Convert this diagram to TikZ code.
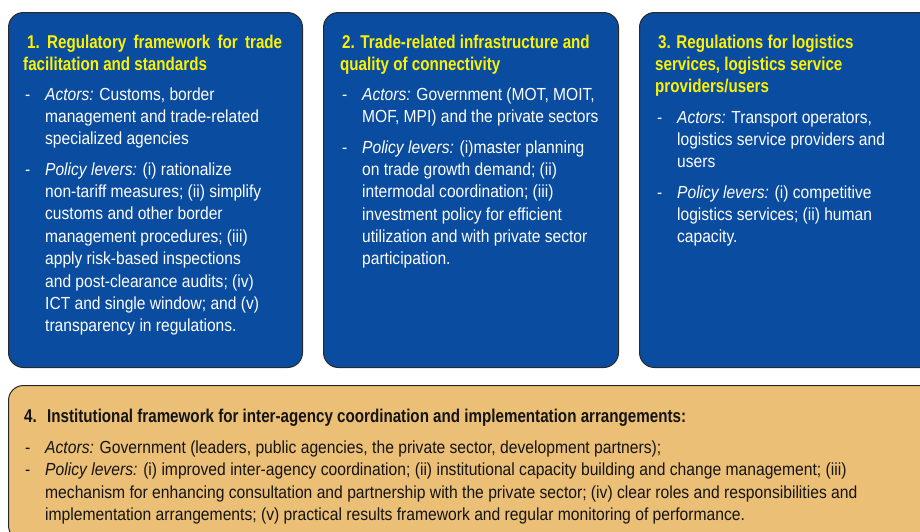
\documentclass[tikz,border=0pt]{standalone}
\usepackage{fontspec}
\setmainfont{Liberation Sans}[FakeStretch=0.89]
\newfontfamily\titlefont{Liberation Sans}[FakeStretch=0.82]
\newfontfamily\widefont{Liberation Sans}[FakeStretch=0.895]
\definecolor{boxblue}{RGB}{10,76,160}
\definecolor{boxorange}{RGB}{235,191,117}
\definecolor{titleyellow}{RGB}{255,242,0}
\definecolor{edgegray}{RGB}{40,40,40}
\definecolor{darktext}{RGB}{20,20,20}
\begin{document}
\begin{tikzpicture}[x=1pt,y=-1pt,
  panel/.style={draw=edgegray, line width=1pt, rounded corners=15pt, inner sep=0pt, anchor=north west},
  bluepanel/.style={panel, fill=boxblue},
  orangepanel/.style={panel, fill=boxorange},
  ttl/.style={anchor=base west, inner sep=0pt, font=\titlefont\bfseries\fontsize{18.5}{22}\selectfont, text=titleyellow},
  ttlblack/.style={ttl, text=darktext},
  body/.style={anchor=base west, inner sep=0pt, font=\fontsize{17.5}{22}\selectfont, text=white},
  bodyblack/.style={body, font=\widefont\fontsize{17.5}{22}\selectfont, text=darktext}
]
\useasboundingbox (0,0) rectangle (920,531);
\clip (0,0) rectangle (920,531);
% panels
\node[bluepanel, minimum width=294pt, minimum height=355pt] (p1) at (8,12) {};
\node[bluepanel, minimum width=295pt, minimum height=355pt] (p2) at (323,12) {};
\node[bluepanel, minimum width=310pt, minimum height=355pt] (p3) at (639,12) {};
\node[orangepanel, minimum width=940pt, minimum height=155pt] (p4) at (8,385) {};
% box 1
\node[ttl] (t1a) at (27,48) {\makebox[255pt][s]{1.\ Regulatory framework for trade}};
\node[ttl] (t1b) at (23,70) {facilitation and standards};
\node[body] (d1a) at (25,100) {-};
\node[body] (l1a) at (45,100) {\textit{Actors:} Customs, border};
\node[body] (l1b) at (45,122) {management and trade-related};
\node[body] (l1c) at (45,144) {specialized agencies};
\node[body] (d1b) at (25,175) {-};
\node[body] (l1d) at (45,175) {\textit{Policy levers:} (i) rationalize};
\node[body] (l1e) at (45,197) {non-tariff measures; (ii) simplify};
\node[body] (l1f) at (45,219) {customs and other border};
\node[body] (l1g) at (45,242) {management procedures; (iii)};
\node[body] (l1h) at (45,264) {apply risk-based inspections};
\node[body] (l1i) at (45,287) {and post-clearance audits; (iv)};
\node[body] (l1j) at (45,309) {ICT and single window; and (v)};
\node[body] (l1k) at (45,331) {transparency in regulations.};
% box 2
\node[ttl] (t2a) at (342,48) {2. Trade-related infrastructure and};
\node[ttl] (t2b) at (340,70) {quality of connectivity};
\node[body] (d2a) at (342,100) {-};
\node[body] (l2a) at (362,100) {\textit{Actors:} Government (MOT, MOIT,};
\node[body] (l2b) at (362,122) {MOF, MPI) and the private sectors};
\node[body] (d2b) at (342,153) {-};
\node[body] (l2c) at (362,153) {\textit{Policy levers:} (i)master planning};
\node[body] (l2d) at (362,175) {on trade growth demand; (ii)};
\node[body] (l2e) at (362,197) {intermodal coordination; (iii)};
\node[body] (l2f) at (362,220) {investment policy for efficient};
\node[body] (l2g) at (362,242) {utilization and with private sector};
\node[body] (l2h) at (362,264) {participation.};
% box 3
\node[ttl] (t3a) at (658,48) {3. Regulations for logistics};
\node[ttl] (t3b) at (655,70) {services, logistics service};
\node[ttl] (t3c) at (655,92) {providers/users};
\node[body] (d3a) at (657,123) {-};
\node[body] (l3a) at (677,123) {\textit{Actors:} Transport operators,};
\node[body] (l3b) at (677,145) {logistics service providers and};
\node[body] (l3c) at (677,167) {users};
\node[body] (d3b) at (657,198) {-};
\node[body] (l3d) at (677,198) {\textit{Policy levers:} (i) competitive};
\node[body] (l3e) at (677,220) {logistics services; (ii) human};
\node[body] (l3f) at (677,242) {capacity.};
% box 4
\node[ttlblack] (t4n) at (24,422) {4.};
\node[ttlblack] (t4a) at (47,422) {Institutional framework for inter-agency coordination and implementation arrangements:};
\node[bodyblack] (d4a) at (25,453) {-};
\node[bodyblack] (l4a) at (45,453) {\textit{Actors:} Government (leaders, public agencies, the private sector, development partners);};
\node[bodyblack] (d4b) at (25,475) {-};
\node[bodyblack] (l4b) at (45,475) {\textit{Policy levers:} (i) improved inter-agency coordination; (ii) institutional capacity building and change management; (iii)};
\node[bodyblack] (l4c) at (45,498) {mechanism for enhancing consultation and partnership with the private sector; (iv) clear roles and responsibilities and};
\node[bodyblack] (l4d) at (45,520) {implementation arrangements; (v) practical results framework and regular monitoring of performance.};
\end{tikzpicture}
\end{document}
